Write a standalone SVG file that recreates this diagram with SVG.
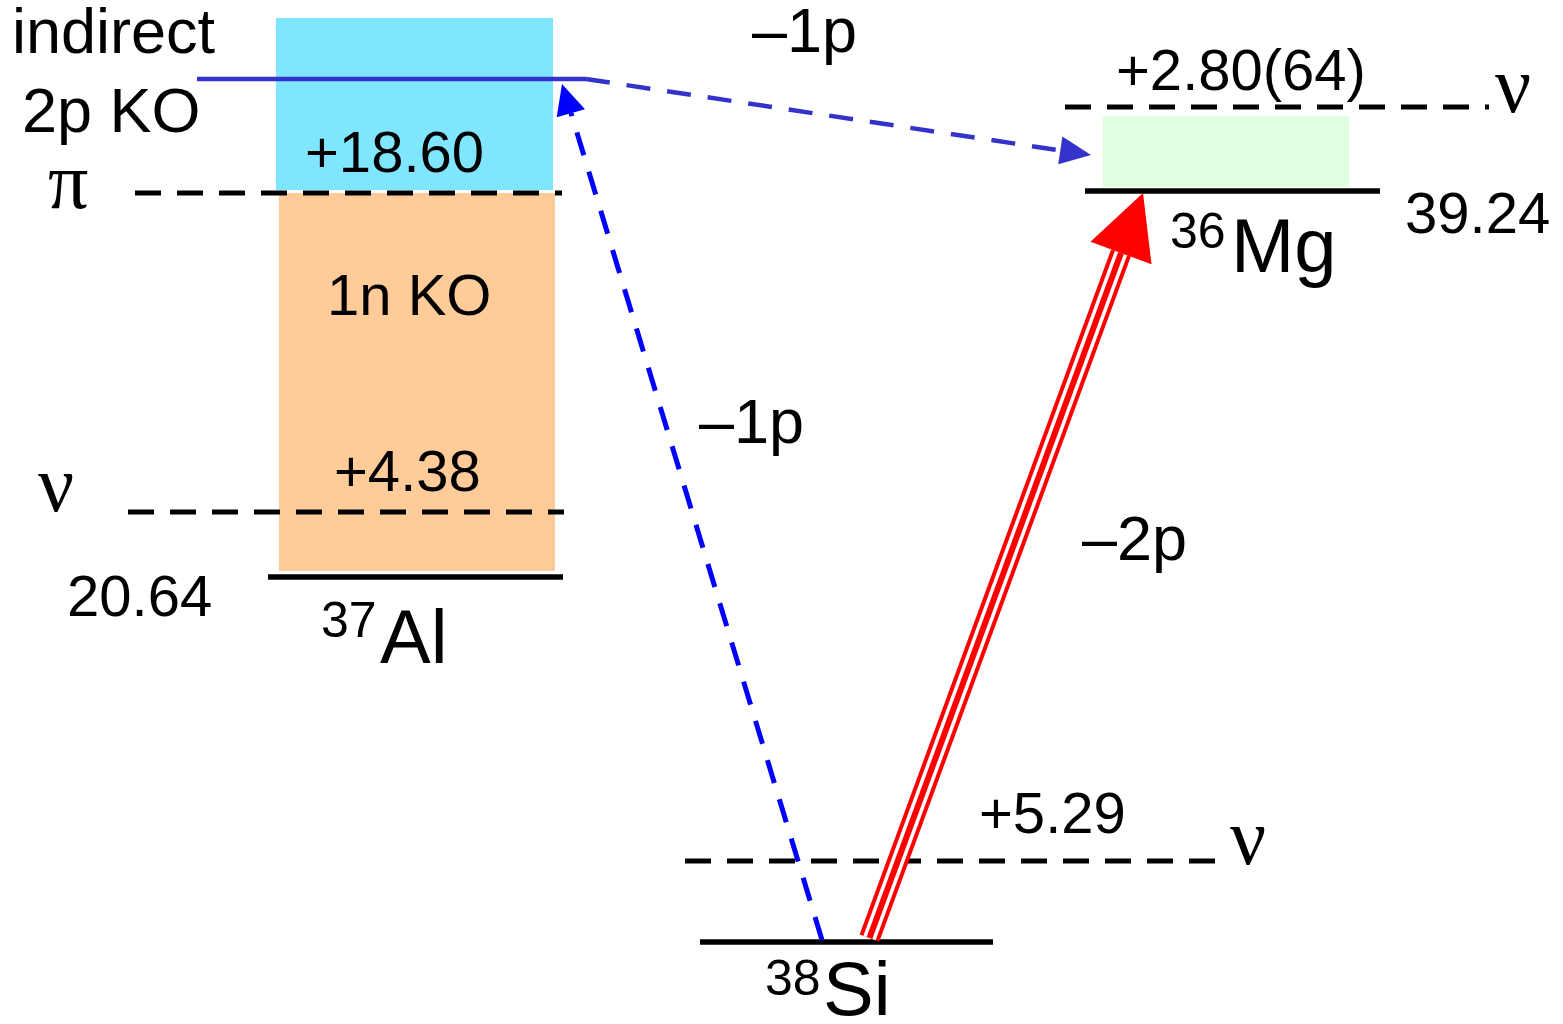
<svg xmlns="http://www.w3.org/2000/svg" width="1563" height="1024" viewBox="0 0 1563 1024">
<style>
  .t { font-family: "Liberation Sans", Arial, sans-serif; font-size: 58px; fill: #000; }
  .lg { font-size: 63px; }
  .big { font-size: 76px; }
  .sup { font-size: 50px; }
  .g { font-family: "Liberation Serif", "Times New Roman", serif; font-size: 80px; fill: #000; }
  .lvl { stroke: #000; stroke-width: 5.5; fill: none; }
  .dsh { stroke: #000; stroke-width: 5; stroke-dasharray: 26 16; fill: none; }
</style>
<rect width="1563" height="1024" fill="#fff"/>

<g id="al37">
  <rect x="276" y="18" width="277" height="172" fill="#80E6FF"/>
  <rect x="279" y="193" width="276" height="378" fill="#FFCC99"/>
  <line class="dsh" x1="135" y1="193" x2="562" y2="193"/>
  <line class="dsh" x1="128" y1="512" x2="564" y2="512"/>
  <line class="lvl" x1="268" y1="577" x2="563" y2="577"/>
  <text class="t lg" x="12" y="53">indirect</text>
  <text class="t lg" x="22" y="132">2p KO</text>
  <text class="g" x="48" y="208">π</text>
  <text class="t" x="305" y="172">+18.60</text>
  <text class="t" x="327" y="315">1n KO</text>
  <text class="t" x="334" y="491">+4.38</text>
  <text class="g" x="38" y="511">ν</text>
  <text class="t" x="67" y="616">20.64</text>
  <text class="t sup" x="321" y="637">37</text>
  <text class="t big" x="380" y="663">Al</text>
</g>

<g id="mg36">
  <rect x="1103" y="116" width="246" height="71" fill="#E0FFE0"/>
  <line class="dsh" x1="1065" y1="107" x2="1489" y2="107"/>
  <line class="lvl" x1="1085" y1="191" x2="1380" y2="191"/>
  <text class="t" x="1116" y="90">+2.80(64)</text>
  <text class="g" x="1495" y="112">ν</text>
  <text class="t" x="1405" y="233">39.24</text>
  <text class="t sup" x="1170" y="248">36</text>
  <text class="t big" x="1231" y="272">Mg</text>
</g>

<g id="si38">
  <line class="dsh" x1="685" y1="861" x2="1217" y2="861"/>
  <line class="lvl" x1="700" y1="942" x2="993" y2="942"/>
  <text class="t" x="979" y="833">+5.29</text>
  <text class="g" x="1230" y="864">ν</text>
  <text class="t sup" x="765" y="995">38</text>
  <text class="t big" x="823" y="1015">Si</text>
</g>

<g id="connectors">
  <line x1="197" y1="79" x2="586" y2="79" stroke="#3333CC" stroke-width="4.5"/>
  <line x1="586" y1="79" x2="1060" y2="150.4" stroke="#3333CC" stroke-width="4.5" stroke-dasharray="24 17"/>
  <polygon points="1091,155 1062.4,136.6 1058.2,164.2" fill="#3333CC"/>
  <line x1="822" y1="940" x2="571" y2="113" stroke="#0000FF" stroke-width="5" stroke-dasharray="24 17"/>
  <polygon points="562,84 556.7,117.3 585,109.3" fill="#0000FF"/>
  <line x1="869.5" y1="938" x2="1121" y2="253" stroke="#FF0000" stroke-width="21"/>
  <line x1="869.5" y1="938" x2="1121" y2="253" stroke="#FFFFFF" stroke-width="13"/>
  <line x1="869.5" y1="938" x2="1121" y2="253" stroke="#FF0000" stroke-width="6"/>
  <polygon points="1143,193 1090.5,241.8 1151.5,264.2" fill="#FF0000"/>
  <text class="t lg" x="752" y="52">–1p</text>
  <text class="t lg" x="699" y="443">–1p</text>
  <text class="t lg" x="1082" y="560">–2p</text>
</g>
</svg>
